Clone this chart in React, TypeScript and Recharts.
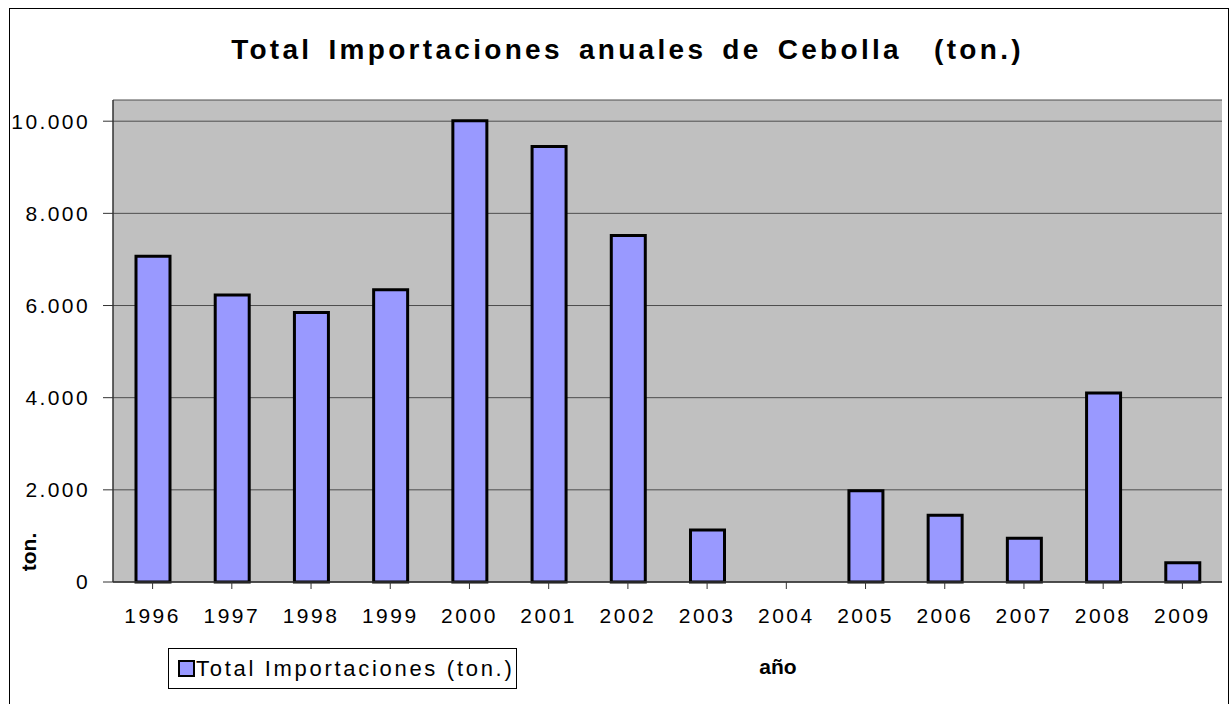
import { BarChart, Bar, XAxis, YAxis, CartesianGrid, Legend } from 'recharts';

const years = ['1996', '1997', '1998', '1999', '2000', '2001', '2002', '2003', '2004', '2005', '2006', '2007', '2008', '2009'];
const imports = [7070, 6230, 5850, 6340, 10010, 9450, 7520, 1130, 0, 1980, 1450, 950, 4100, 420];
const yTicks = [0, 2000, 4000, 6000, 8000, 10000];

const data = years.map((year, i) => ({ year, total: imports[i] }));

const FONT = '"Liberation Sans", Arial, sans-serif';

// separador de miles con punto
const fmt = (v: number) => String(v).replace(/\B(?=(\d{3})+(?!\d))/g, '.');

const LegendBox = () => (
  <div
    style={{
      display: 'flex',
      alignItems: 'center',
      height: '100%',
      fontFamily: FONT,
      fontSize: 22,
      letterSpacing: 2.7,
      color: '#000',
      whiteSpace: 'nowrap',
    }}
  >
    <span
      style={{
        display: 'inline-block',
        width: 13,
        height: 13,
        background: '#9999FF',
        border: '2px solid #000',
        marginLeft: 9,
        marginRight: 1,
      }}
    />
    Total Importaciones (ton.)
  </div>
);

export default function App() {
  return (
    <div style={{ position: 'absolute', left: 0, top: 0, width: 1231, height: 704, background: '#fff', overflow: 'hidden' }}>
      <div
        style={{
          position: 'absolute',
          left: 9,
          top: 8,
          width: 1218,
          height: 720,
          border: '1px solid #000',
        }}
      />
      <div
        style={{
          position: 'absolute',
          left: 0,
          width: 1255,
          top: 36,
          textAlign: 'center',
          fontFamily: FONT,
          fontWeight: 'bold',
          fontSize: 28,
          lineHeight: '28px',
          letterSpacing: 3.3,
          wordSpacing: 5,
          color: '#000',
          whiteSpace: 'nowrap',
        }}
      >
        Total Importaciones anuales de Cebolla&nbsp;&nbsp;(ton.)
      </div>
      <div style={{ position: 'absolute', left: 0, top: 0 }}>
        <BarChart
          width={1231}
          height={704}
          data={data}
          margin={{ top: 100, right: 9, left: 0, bottom: 41 }}
          barSize={34}
        >
          <CartesianGrid horizontal vertical={false} stroke="#4d4d4d" fill="#C0C0C0" fillOpacity={1} />
          <XAxis
            dataKey="year"
            height={40}
            tickSize={7}
            tickMargin={19}
            axisLine={{ stroke: '#333', strokeWidth: 1.5 }}
            tickLine={{ stroke: '#333' }}
            tick={{ fontSize: 21, fontFamily: FONT, fill: '#000', letterSpacing: 2.5 }}
            interval={0}
            label={() => (
              <text
                x={778}
                y={674}
                textAnchor="middle"
                fontFamily={FONT}
                fontWeight="bold"
                fontSize={21}
                fill="#000"
              >
                año
              </text>
            )}
          />
          <XAxis xAxisId="top" orientation="top" dataKey="year" height={0} tick={false} tickLine={false} axisLine={{ stroke: '#808080', strokeWidth: 2 }} />
          <YAxis
            width={113}
            domain={[0, 10460]}
            ticks={yTicks}
            interval={0}
            tickFormatter={fmt}
            tickSize={10}
            tickMargin={13}
            axisLine={{ stroke: '#333', strokeWidth: 1.5 }}
            tickLine={{ stroke: '#333' }}
            tick={{ fontSize: 21, fontFamily: FONT, fill: '#000', letterSpacing: 2.4 }}
            label={() => (
              <text
                x={36}
                y={552}
                transform="rotate(-90, 36, 552)"
                textAnchor="middle"
                fontFamily={FONT}
                fontWeight="bold"
                fontSize={21}
                fill="#000"
              >
                ton.
              </text>
            )}
          />
          <YAxis yAxisId="right" orientation="right" width={0} domain={[0, 10460]} tick={false} tickLine={false} axisLine={{ stroke: '#808080', strokeWidth: 3 }} />
          <Legend
            verticalAlign="bottom"
            content={<LegendBox />}
            wrapperStyle={{
              position: 'absolute',
              left: 168,
              top: 648,
              width: 349,
              height: 41,
              border: '1px solid #000',
              background: '#fff',
              boxSizing: 'border-box',
            }}
          />
          <Bar dataKey="total" fill="#9999FF" stroke="#000" strokeWidth={3} isAnimationActive={false} />
        </BarChart>
      </div>
    </div>
  );
}
